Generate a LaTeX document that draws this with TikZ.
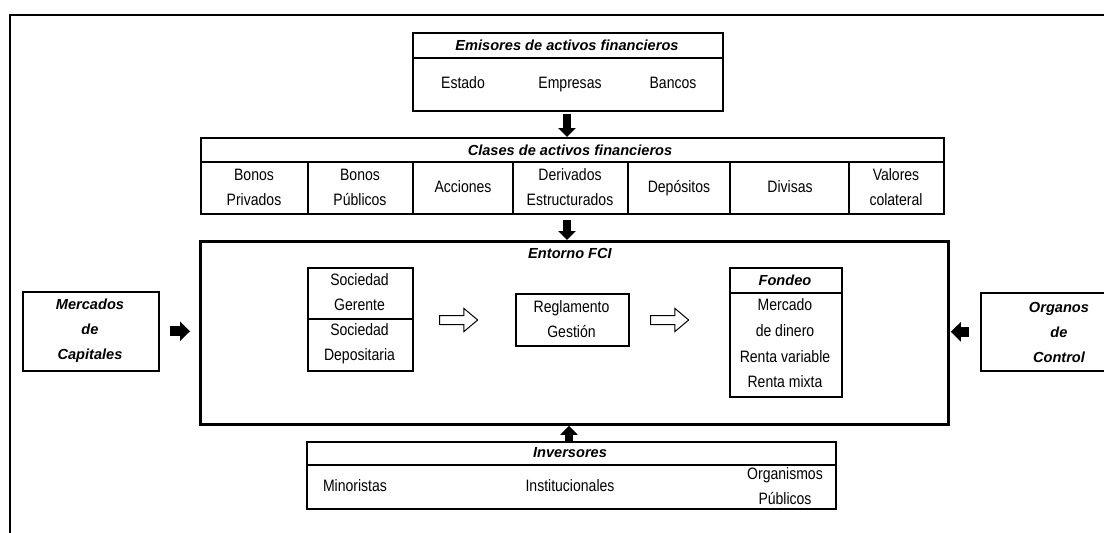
\documentclass[tikz,border=0pt]{standalone}
\usepackage{fontspec}
\setmainfont{Liberation Sans}
\newfontfamily\regfont{Liberation Sans}[FakeStretch=0.85]
\usetikzlibrary{arrows.meta,shapes.arrows}
\begin{document}
\begin{tikzpicture}[x=1pt,y=-1pt,
  box/.style={draw,line width=1.6pt,inner sep=0pt,anchor=north west},
  bigbox/.style={draw,line width=2.8pt,inner sep=0pt,anchor=north west},
  divline/.style={line width=1.6pt},
  frameline/.style={line width=2.4pt},
  txt/.style={inner sep=0pt,align=center,font=\regfont\fontsize{16.5}{25}\selectfont},
  one/.style={text height=12pt,text depth=3.5pt},
  ttl/.style={inner sep=0pt,align=center,font=\fontsize{14.6}{25}\selectfont\bfseries\itshape},
  vblock/.style={line width=8pt,-{Triangle[width=17pt,length=9pt]}},
  hblock/.style={line width=10pt,-{Triangle[width=19pt,length=10pt]}},
  openarrow/.style={single arrow,draw,line width=1pt,inner xsep=0pt,inner ysep=4pt,
    minimum height=38pt,single arrow head extend=7pt,
    single arrow tip angle=80}]
\useasboundingbox (0,0) rectangle (1104,533);
% outer frame (top and left)
\draw[frameline] (10,533) -- (10,15) -- (1104,15);

% Emisores
\node[box,minimum width=310,minimum height=78] (emis) at (412,32) {};
\draw[divline] (412,58) -- (722,58);
\node[ttl] (emisT) at (567,45) {Emisores de activos financieros};
\node[txt,one] (estado) at (463,84) {Estado};
\node[txt,one] (empresas) at (570,84) {Empresas};
\node[txt,one] (bancos) at (673,84) {Bancos};

% Clases
\node[box,minimum width=743,minimum height=76] (clases) at (200,137) {};
\draw[divline] (200,162) -- (943,162);
\foreach \xx in {308,413,513,628,730,849}{\draw[divline] (\xx,162) -- (\xx,213);}
\node[ttl] (clasesT) at (570,150) {Clases de activos financieros};
\node[txt] (c1) at (254,187.5) {Bonos\\Privados};
\node[txt] (c2) at (360,187.5) {Bonos\\Públicos};
\node[txt,one] (c3) at (463,188) {Acciones};
\node[txt] (c4) at (570,187.5) {Derivados\\Estructurados};
\node[txt,one] (c5) at (679,188) {Depósitos};
\node[txt,one] (c6) at (790,188) {Divisas};
\node[txt] (c7) at (896,187.5) {Valores\\colateral};

% FCI
\node[bigbox,minimum width=748,minimum height=183] (fci) at (199,240) {};
\node[ttl] (fciT) at (570,253) {Entorno FCI};

% Sociedad
\node[box,minimum width=105,minimum height=103] (soc) at (307,267) {};
\draw[divline] (307,319) -- (412,319);
\node[txt] (soc1) at (359.5,292.5) {Sociedad\\Gerente};
\node[txt] (soc2) at (359.5,343.5) {Sociedad\\Depositaria};

% Reglamento
\node[box,minimum width=113,minimum height=52] (reg) at (515,293) {};
\node[txt] (regT) at (571.5,319) {Reglamento\\Gestión};

% Fondeo
\node[box,minimum width=112,minimum height=129] (fon) at (729,267) {};
\draw[divline] (729,293) -- (841,293);
\node[ttl] (fonT) at (785,280) {Fondeo};
\node[txt,font=\regfont\fontsize{16.5}{25.7}\selectfont] (fonL) at (785,343.5) {Mercado\\de dinero\\Renta variable\\Renta mixta};

% open arrows
\node[openarrow] (oa1) at (456,320) {};
\node[openarrow] (oa2) at (667,320) {};

% Mercados / Organos
\node[box,minimum width=136,minimum height=79] (merc) at (22,291) {};
\node[ttl] (mercT) at (90,331) {Mercados\\de\\Capitales};
\node[box,minimum width=130,minimum height=78] (org) at (980,292) {};
\node[ttl] (orgT) at (1059,332) {Organos\\de\\Control};

% Inversores
\node[box,minimum width=529,minimum height=67] (inv) at (306,441) {};
\draw[divline] (306,465) -- (835,465);
\node[ttl] (invT) at (570,453) {Inversores};
\node[txt,one] (i1) at (355,487) {Minoristas};
\node[txt,one] (i2) at (570,487) {Institucionales};
\node[txt] (i3) at (785,486) {Organismos\\Públicos};

% block arrows
\draw[vblock] ([yshift=-2]emis.south -| 567,0) -- (clases.north -| 567,0);
\draw[vblock] ([yshift=-5]clases.south -| 567,0) -- (fci.north -| 567,0);
\draw[vblock] (inv.north -| 569,0) -- (fci.south -| 569,0);
\draw[hblock] ([xshift=10]merc.east) -- ([xshift=-9]fci.west |- merc.east);
\draw[hblock] ([xshift=-11]org.west) -- ([xshift=1]fci.east |- org.west);
\end{tikzpicture}
\end{document}
